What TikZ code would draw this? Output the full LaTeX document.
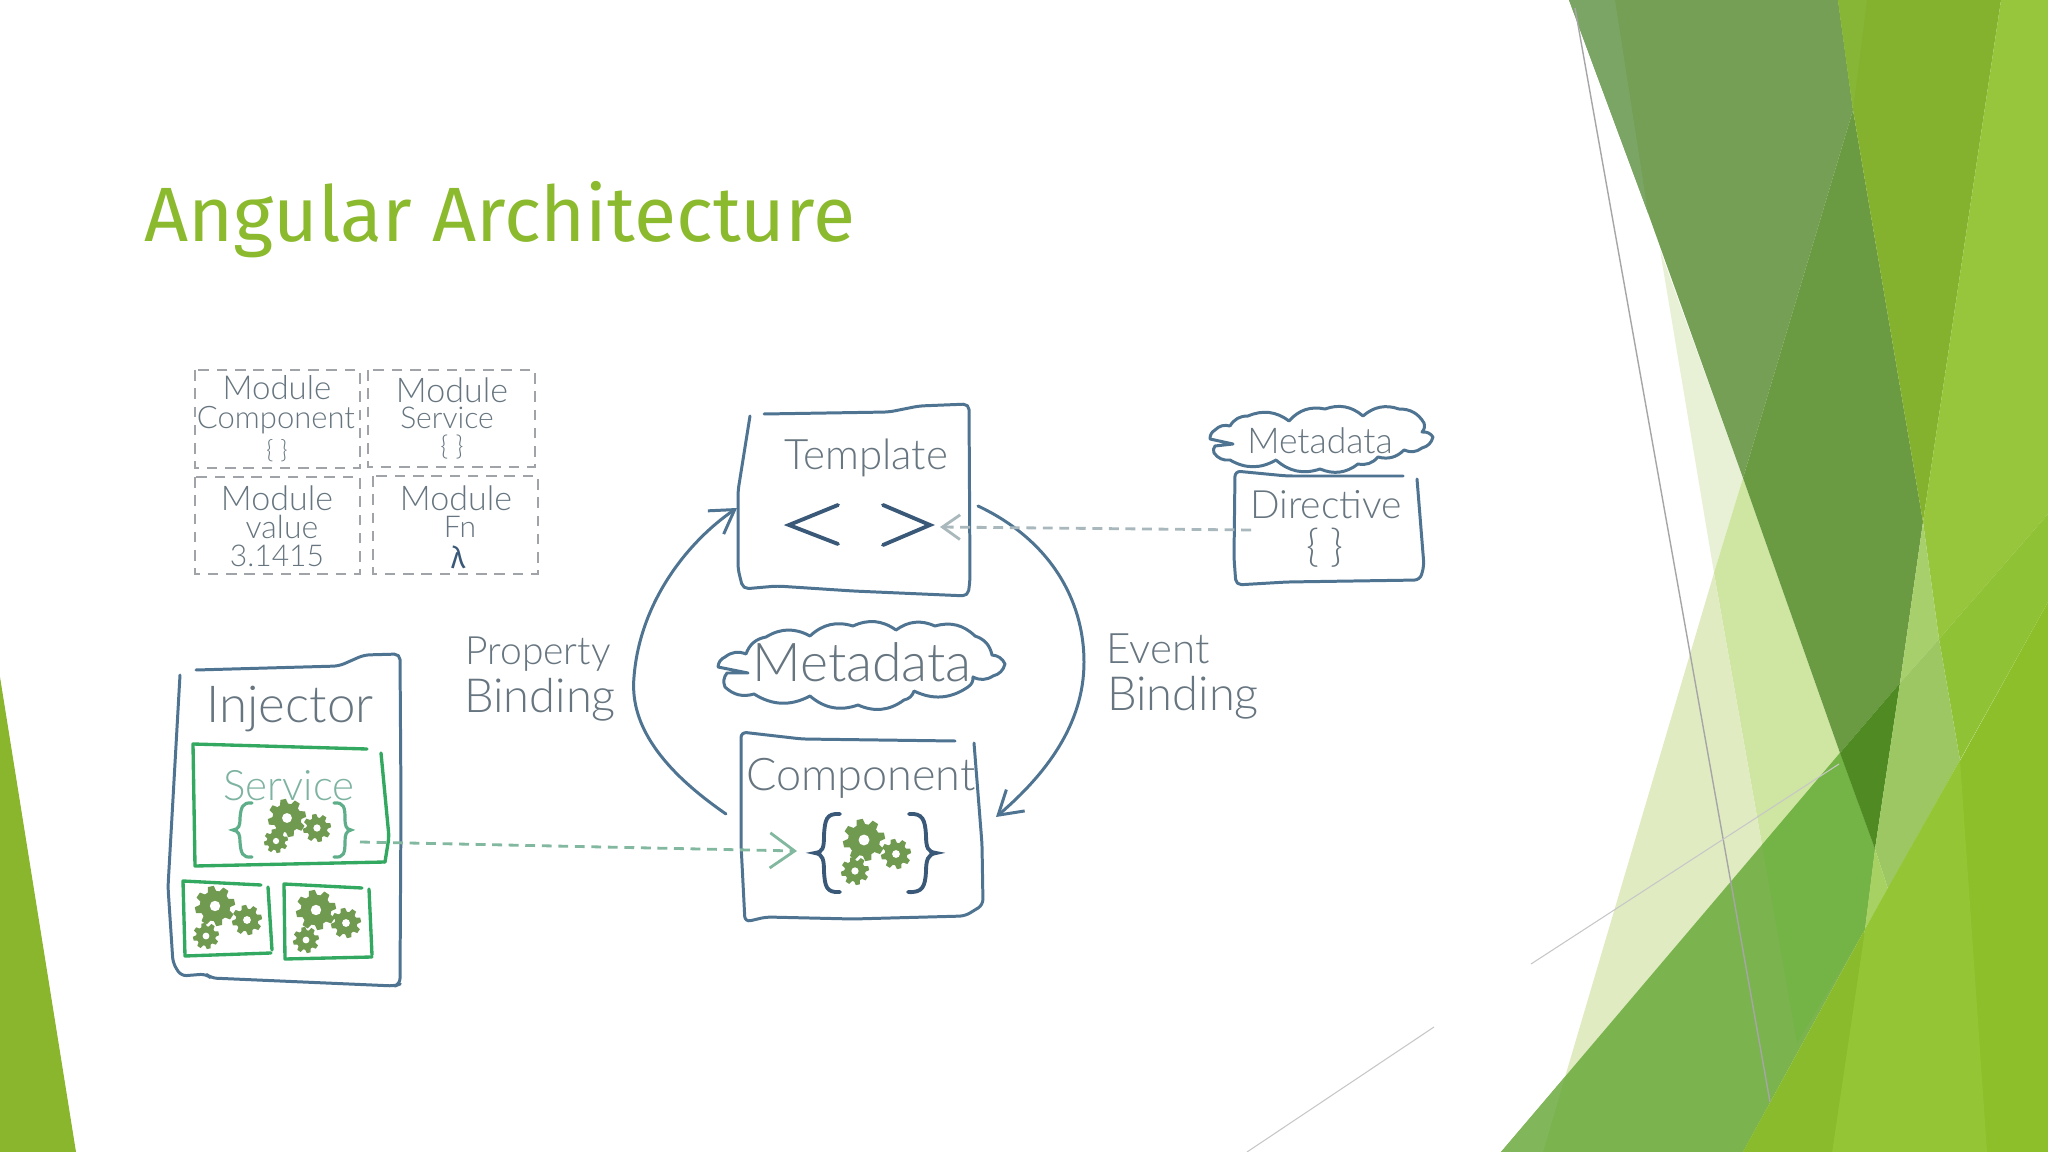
\documentclass[tikz,border=0pt]{standalone}
\usepackage{fontspec}
\setmainfont{Fira Sans}
\newfontfamily\hand{Lato Light}
\usetikzlibrary{arrows.meta}
\definecolor{ttl}{HTML}{8CBA2E}
\definecolor{slate}{HTML}{4F7492}
\definecolor{txtc}{HTML}{66757F}
\definecolor{dashc}{HTML}{A0A4A8}
\definecolor{dkblue}{HTML}{3A5878}
\definecolor{boxg}{HTML}{33A860}
\definecolor{gearc}{HTML}{6F9A50}
\definecolor{svct}{HTML}{7DB3A0}
\definecolor{svcb}{HTML}{5FAE8A}
\definecolor{greenarrow}{HTML}{82B8A0}
\definecolor{grayarrow}{HTML}{A9B8BC}
\newcommand\px[1]{\fontsize{\fpeval{#1*0.2845}}{\fpeval{#1*0.3}}\selectfont}
\newcommand\gearat[4]{%
  \begin{scope}[shift={(#1,#2)},scale=#3]
    \fill[#4] (0,0) circle (0.76);
    \foreach \a in {0,45,...,315}{\fill[#4,rotate=\a+12] (-.22,.68)--(-.15,1)--(.15,1)--(.22,.68)--cycle;}
    \fill[white] (0,0) circle (0.26);
  \end{scope}}
\tikzset{
  x=0.01cm,y=-0.01cm,
  sketch/.style={draw=slate,line width=0.85pt,line cap=round,line join=round,rounded corners=1.6pt},
  gsketch/.style={draw=boxg,line width=0.95pt,line cap=round,line join=round},
  modbox/.style={draw=dashc,line width=0.8pt,dash pattern=on 3pt off 2.2pt},
  hw/.style={text=txtc,inner sep=0pt,font=\hand},
  scal/.style={bend left=30},
  bigbrace/.style={draw=dkblue,line width=1.1pt,line cap=round},
  smallbrace/.style={draw=svcb,line width=.9pt,line cap=round},
  conn/.style={draw=slate,line width=0.85pt,line cap=round,-{Straight Barb[length=6.5pt,width=8pt]}},
  dashconn/.style={line width=0.8pt,dash pattern=on 2.8pt off 1.9pt,-{Straight Barb[length=7pt,width=10pt]}},
}
\begin{document}
\begin{tikzpicture}
\useasboundingbox (0,0) rectangle (2048,1152);
% ---- slide background
\fill[white] (0,0) rectangle (2048,1152);
\fill[ttl!98!black] (0,677)--(76,1152)--(0,1152)--cycle;
\definecolor{c1}{HTML}{E8F1D5}\definecolor{c2}{HTML}{CFE5A2}\definecolor{c3}{HTML}{E0EBC2}
\definecolor{c4}{HTML}{7BB34F}\definecolor{c5}{HTML}{82B65A}\definecolor{c6}{HTML}{74B346}
\definecolor{c7}{HTML}{749F54}\definecolor{c8}{HTML}{7BA564}\definecolor{c9}{HTML}{6A9A42}
\definecolor{c10}{HTML}{4F8A22}\definecolor{c11}{HTML}{84B22F}\definecolor{c12}{HTML}{87B636}
\definecolor{c13}{HTML}{97C63C}\definecolor{c14}{HTML}{90C236}\definecolor{c15}{HTML}{A7CF6B}
\definecolor{c16}{HTML}{9DC763}\definecolor{c17}{HTML}{A8D164}\definecolor{c18}{HTML}{8CBF2A}
\definecolor{c19}{HTML}{94C534}\definecolor{c20}{HTML}{8ABB2C}
\fill[c1] (1660,250)--(1743,478)--(1714,573)--cycle;
\fill[c2] (1714,573)--(1743,478)--(1840,753)--(1762,845)--cycle;
\fill[c3] (1714,573)--(1762,845)--(1565,1077)--cycle;
\fill[c4] (1501,1152)--(1840,753)--(1875,849)--(1865,929)--(1743,1152)--cycle;
\fill[c5] (1501,1152)--(1565,1077)--(1543,1152)--cycle;
\fill[c6] (1762,845)--(1840,753)--(1875,849)--(1865,929)--(1797,1043)--cycle;
\fill[c7] (1569,0)--(1838,0)--(1853,110)--(1743,478)--(1648,213)--cycle;
\fill[c8] (1569,0)--(1615,0)--(1648,213)--cycle;
\fill[c9] (1743,478)--(1853,110)--(1923,522)--(1900,683)--(1840,753)--cycle;
\fill[c10] (1840,753)--(1900,683)--(1875,849)--cycle;
\fill[c11] (1838,0)--(2001,0)--(1923,522)--(1853,110)--cycle;
\fill[c12] (1838,0)--(1867,0)--(1853,110)--cycle;
\fill[c13] (2001,0)--(2048,0)--(2048,514)--(1939,639)--(1923,522)--cycle;
\fill[c14] (1939,639)--(2048,514)--(2048,602)--(1960,760)--cycle;
\fill[c15] (1923,522)--(1939,639)--(1900,683)--cycle;
\fill[c16] (1900,683)--(1939,639)--(1960,760)--(1888,889)--(1875,849)--cycle;
\fill[c17] (1875,849)--(1888,889)--(1865,929)--cycle;
\fill[c18] (1743,1152)--(2048,602)--(2048,1152)--cycle;
\fill[c19] (1865,929)--(1960,760)--(1987,1152)--(1832,1152)--cycle;
\fill[c20] (1743,1152)--(1865,929)--(1832,1152)--cycle;
\draw[black!35,line width=0.4pt] (1575,8)--(1770,1102);
\draw[black!22,line width=0.3pt] (1839,764)--(1531,964);
\draw[black!22,line width=0.3pt] (1434,1027)--(1247,1152);
% ---- title
\node[anchor=base west,inner sep=0pt,text=ttl] (title) at (144,242) {\px{77}Angular Architecture};
% ---- module boxes
\draw[modbox] (195,370) rectangle (360,468);
\draw[modbox] (368,370) rectangle (535,467);
\draw[modbox] (195,477) rectangle (360,574);
\draw[modbox] (373,476) rectangle (538,574);
\node[hw] (m1a) at (277,388) {\px{33}Module};
\node[hw] (m1b) at (276,420) {\px{31}Component};
\node[hw] (m1c) at (277,451) {\px{25}\{ \}};
\node[hw] (m2a) at (452,390) {\px{34}Module};
\node[hw] (m2b) at (447,418) {\px{30}Service};
\node[hw] (m2c) at (452,447) {\px{27}\{ \}};
\node[hw] (m3a) at (277,498) {\px{34}Module};
\node[hw] (m3b) at (282,527) {\px{32}value};
\node[hw] (m3c) at (277,556) {\px{30}3.1415};
\node[hw] (m4a) at (456,498) {\px{34}Module};
\node[hw] (m4b) at (460,527) {\px{30}Fn};
\node[hw,text=dkblue,font=\rmfamily] (m4c) at (458,557) {\px{30}λ};
% ---- Template
\draw[sketch] (750,416)--(738,491)--(738,569)--(743,589)--(777,586)--(853,591)--(968,596)--(970,580)--(969,404)--(919,406)--(889,412)--(764,414);
\node[hw] (template) at (866,458) {\px{42}Template};
\draw[dkblue,line width=1.1pt,line cap=round] (838,505)--(789,525)--(838,544);
\draw[dkblue,line width=1.1pt,line cap=round] (883,505)--(930,525)--(883,545);
% ---- Directive
\draw[sketch] (1403,476)--(1287,476)--(1235,471)--(1234,558)--(1236,585)--(1287,582)--(1420,580)--(1424,566)--(1417,479);
\node[hw] (directive) at (1326,505) {\px{39}Directive};
\node[hw] (dirbrace) at (1325,548) {\px{44}\{ \}};
% ---- small cloud
\draw[sketch,rounded corners=0pt] (1230,426) to[scal] (1248,416) to[scal] (1289,421) to[scal] (1325,409) to[scal] (1363,416) to[scal] (1399,409) to[scal] (1424,423) to[scal] (1422,432) to[scal] (1433,437) to[scal] (1422,448) to[scal] (1404,450) to[scal] (1378,457) to[scal] (1358,464) to[scal] (1320,469) to[scal] (1276,460) to[scal] (1230,460) to[scal] (1214,453) to[scal] (1215,446) -- (1233,444) -- (1210,439) to[scal] (1215,430) to[scal] (1230,426);
\node[hw] (meta2) at (1320,441) {\px{35.5}Metadata};
% ---- big cloud
\draw[sketch,rounded corners=0pt] (746,654) to[scal] (766,637) to[scal] (810,636) to[scal] (853,626) to[scal] (896,630) to[scal] (935,626) to[scal] (975,636) to[scal] (992,655) to[scal] (1005,664) to[scal] (993,676) to[scal] (973,677) to[scal] (968,687) to[scal] (914,691) to[scal] (904,700) to[scal] (858,705) to[scal] (810,696) to[scal] (754,694) to[scal] (725,687) to[scal] (727,673) -- (748,673) -- (718,667) to[scal] (725,657) to[scal] (746,654);
\node[hw] (meta1) at (862,662) {\px{53.5}Metadata};
% ---- Component
\draw[sketch] (955,741)--(802,739)--(741,732)--(741,844)--(745,922)--(766,917)--(853,919)--(965,916)--(983,905)--(982,844)--(974,743);
\node[hw] (component) at (861,778) {\px{45}Component};
\draw[bigbrace] (840,814) .. controls (826,813) and (825,820) .. (824,835) .. controls (824,848) and (823,852) .. (815,853) .. controls (823,854) and (824,860) .. (824,872) .. controls (825,886) and (826,893) .. (840,892);
\draw[bigbrace] (909,814) .. controls (923,813) and (925,820) .. (926,835) .. controls (926,848) and (928,852) .. (936,853) .. controls (928,854) and (926,860) .. (926,872) .. controls (925,886) and (923,893) .. (908,892);
\gearat{864}{840}{21}{gearc}\gearat{896}{854}{15}{gearc}\gearat{855}{871}{14}{gearc}
% ---- Injector
\draw[sketch] (180,675)--(168,887)--(173,963)--(181,976)--(206,974)--(211,978)--(395,986)--(400,984)--(401,803)--(400,654)--(364,655)--(339,666)--(196,670);
\node[hw] (injector) at (290,709) {\px{51}Injector};
% ---- Service
\draw[gsketch] (367,749)--(193,744)--(195,866)--(385,862);
\draw[gsketch,rounded corners=1.6pt] (385,862)--(389,837)--(381,753);
\node[hw,text=svct] (service) at (289,786) {\px{42}Service};
\draw[smallbrace] (252,803) .. controls (242,802) and (241,808) .. (240,818) .. controls (240,826) and (239,829) .. (233,830) .. controls (239,831) and (240,835) .. (240,842) .. controls (241,853) and (242,858) .. (252,857);
\draw[smallbrace] (334,803) .. controls (344,802) and (345,808) .. (345,818) .. controls (345,826) and (346,829) .. (351,830) .. controls (346,831) and (345,835) .. (345,842) .. controls (345,853) and (344,858) .. (334,857);
\gearat{287}{818}{19}{gearc}\gearat{317}{828}{14}{gearc}\gearat{276}{841}{12}{gearc}
% ---- small green boxes
\draw[gsketch] (261,885)--(183,881)--(185,956)--(271,953);
\draw[gsketch] (272,950)--(268,887);
\gearat{215}{906}{20}{gearc}\gearat{247}{920}{15}{gearc}\gearat{206}{936}{13}{gearc}
\draw[gsketch] (362,888)--(284,884)--(285,959)--(372,957);
\draw[gsketch] (372,955)--(369,889);
\gearat{316}{910}{20}{gearc}\gearat{346}{923}{15}{gearc}\gearat{306}{940}{13}{gearc}
% ---- labels
\node[hw] (prop) at (538,654) {\px{39}Property};
\node[hw] (bind1) at (540,700) {\px{47}Binding};
\node[hw] (event) at (1158,649) {\px{42}Event};
\node[hw] (bind2) at (1183,698) {\px{47}Binding};
% ---- connectors
\coordinate (cL) at (726,814);
\coordinate (tL) at (737,508);
\coordinate (tR) at (978,506);
\coordinate (cR) at (996,817);
\coordinate (svcOut) at (360,842);
\coordinate (compIn) at (797,851);
\coordinate (dirOut) at (1251,530);
\coordinate (tmplIn) at (940,527);
\draw[conn] (cL) .. controls (655,765) and (630,720) .. (634,677) .. controls (640,600) and (690,540) .. (tL);
\draw[conn] (tR) .. controls (1050,540) and (1084,600) .. (1084,662) .. controls (1084,725) and (1045,775) .. (cR);
\draw[dashconn,draw=greenarrow] (svcOut) -- (compIn);
\draw[dashconn,draw=grayarrow,-{Straight Barb[length=5pt,width=7pt]}] (dirOut) -- (tmplIn);
\end{tikzpicture}
\end{document}
